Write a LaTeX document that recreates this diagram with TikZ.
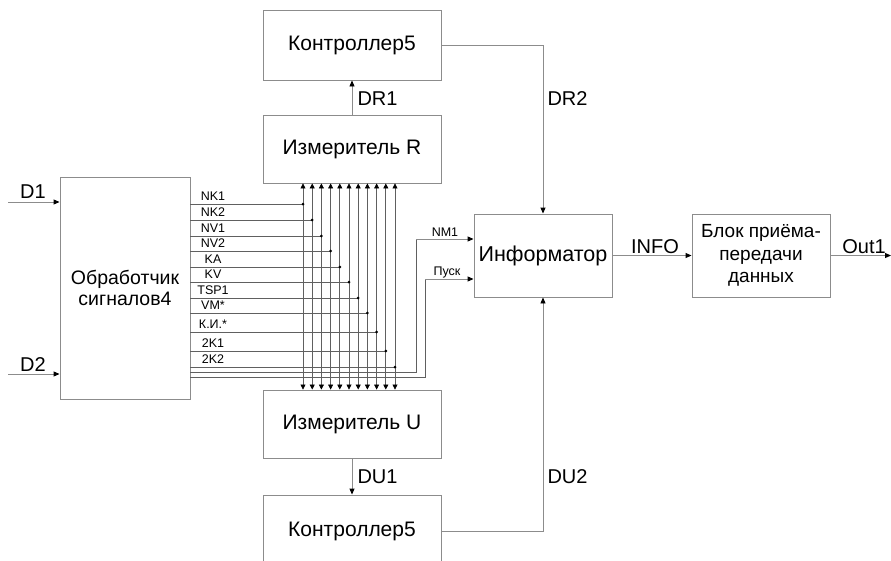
\documentclass[tikz,border=0pt]{standalone}
\usepackage{fontspec}
\setmainfont{Liberation Sans}
\usetikzlibrary{arrows.meta}
\definecolor{ln}{HTML}{8C8C8C}
\definecolor{bus}{HTML}{606060}
\tikzset{
  blk/.style={draw=ln, line width=0.9pt, rectangle, inner sep=0pt, align=center},
  wire/.style={draw=ln, line width=0.9pt},
  arr/.style={wire, -{Triangle[length=6pt,width=5pt,color=black,fill=black]}},
  busw/.style={draw=bus, line width=0.7pt},
  busarr/.style={busw, {Triangle[length=5pt,width=5pt,color=black,fill=black]}-{Triangle[length=5pt,width=5pt,color=black,fill=black]}},
  big/.style={font=\fontsize{21}{24}\selectfont},
  lbl/.style={font=\fontsize{20}{24}\selectfont},
  sml/.style={font=\fontsize{12.5}{13}\selectfont, inner sep=0pt}
}
\begin{document}
\begin{tikzpicture}[x=1pt,y=-1pt]
\useasboundingbox (0,0) rectangle (891,560);
\clip (0,0) rectangle (891,560);
% blocks
\node[blk,big,minimum width=178pt,minimum height=70pt] (K1) at (352,45) {Контроллер5};
\node[blk,big,minimum width=178pt,minimum height=68pt] (R) at (352,149) {Измеритель R};
\node[blk,big,minimum width=178pt,minimum height=68pt] (U) at (352,424) {Измеритель U};
\node[blk,big,minimum width=178pt,minimum height=72pt] (K2) at (352,531) {Контроллер5};
\node[blk,font=\fontsize{19.5}{21}\selectfont,minimum width=130pt,minimum height=222pt] (P) at (125,288) {Обработчик\\сигналов4};
\node[blk,font=\fontsize{21.5}{25}\selectfont,minimum width=138pt,minimum height=83pt] (I) at (543,255.5) {Информатор};
\node[blk,font=\fontsize{19}{22.5}\selectfont,minimum width=138pt,minimum height=83pt] (B) at (761,255.5) {Блок приёма-\\передачи\\данных};
% inputs
\coordinate (d1) at (8,202);
\coordinate (d2) at (8,374);
\draw[arr] (d1) -- (d1 -| P.west);
\draw[arr] (d2) -- (d2 -| P.west);
\node[lbl] (D1l) at (33,192) {D1};
\node[lbl] (D2l) at (33,365) {D2};
% controllers
\draw[arr] (R.north) -- (K1.south);
\node[lbl,anchor=west] (DR1l) at (354,99) {DR1};
\draw[arr] (U.south) -- (K2.north);
\node[lbl,anchor=west] (DU1l) at (354,477) {DU1};
\draw[arr] (K1.east) -| (I.north);
\node[lbl,anchor=west] (DR2l) at (544,99) {DR2};
\draw[arr] (K2.east) -| (I.south);
\node[lbl,anchor=west] (DU2l) at (544,477) {DU2};
% info and out
\draw[arr] (I.east) -- (B.west);
\node[lbl] (INFOl) at (655,247) {INFO};
\coordinate (o1) at (891,255.5);
\draw[arr] (B.east) -- (o1);
\node[lbl] (OUTl) at (864,247) {Out1};
% bus
\foreach \lab/\yy [count=\i from 0] in {NK1/204,NK2/220,NV1/236,NV2/251,KA/267,KV/282,TSP1/298,VM*/313,К.И.*/332,2K1/351,2K2/367}{
  \pgfmathsetmacro\xx{303+9.2*\i}
  \coordinate (c\i) at (\xx,\yy);
  \coordinate (v\i) at (\xx,300);
  \draw[busarr] (v\i |- R.south) -- (v\i |- U.north);
  \draw[busw] (c\i -| P.east) -- (c\i);
  \fill[black] (c\i) circle (1.5pt);
  \node[sml] (lab\i) at (213,\yy-7.5) {\lab};
}
% NM1 and Pusk
\coordinate (nm) at (416,372);
\coordinate (nmy) at (416,239);
\coordinate (pk) at (425,377);
\coordinate (pky) at (425,279);
\draw[busw] (nm -| P.east) -- (nm) -- (nmy);
\draw[arr] (nmy) -- (nmy -| I.west);
\draw[busw] (pk -| P.east) -- (pk) -- (pky);
\draw[arr] (pky) -- (pky -| I.west);
\node[sml] (nml) at (445,232) {NM1};
\node[sml] (pkl) at (447,272) {Пуск};
\end{tikzpicture}
\end{document}
